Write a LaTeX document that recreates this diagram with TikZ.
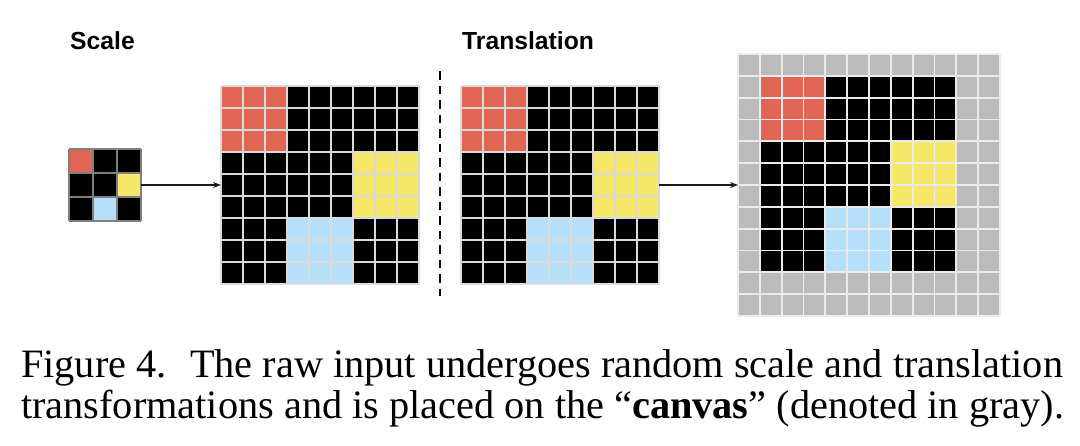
\documentclass[tikz,border=0pt]{standalone}
\usepackage{fontspec}
\setmainfont{Liberation Serif}
\newfontfamily\headfont{Liberation Sans}
\usetikzlibrary{arrows.meta}
\definecolor{cred}{HTML}{E26656}
\definecolor{cyel}{HTML}{F5E767}
\definecolor{cblue}{HTML}{B6E0FA}
\definecolor{cgray}{HTML}{BBBBBB}
\definecolor{gline}{HTML}{DADADA}
\definecolor{sline}{HTML}{7F7F7F}
\newcommand\pimg[3]{%
  \fill[black] (#1,#2) rectangle ++({3*#3},{3*#3});
  \fill[cred] (#1,#2) rectangle ++(#3,#3);
  \fill[cyel] ({#1+2*#3},{#2+#3}) rectangle ++(#3,#3);
  \fill[cblue] ({#1+#3},{#2+2*#3}) rectangle ++(#3,#3);}
\newcommand\pgridlines[5]{% x0,y0,cell,count,style
  \foreach \k in {0,...,#4}{
    \draw[#5] ({#1+\k*#3},#2) -- ++(0,{#4*#3});
    \draw[#5] (#1,{#2+\k*#3}) -- ++({#4*#3},0);}}
\begin{document}
\begin{tikzpicture}[x=1pt,y=-1pt,
  anchorbox/.style={inner sep=0pt, outer sep=0pt, draw=none, minimum width=#1, minimum height=#1},
  conn/.style={line width=1.2pt, draw=black!90, -{Stealth[length=8pt,width=6pt]}},
  head/.style={inner sep=0pt, anchor=base west, font=\headfont\bfseries\fontsize{24.7}{28}\selectfont},
  captext/.style={inner sep=0pt, anchor=base west, font=\fontsize{40.3}{42}\selectfont},
  bigline/.style={draw=gline, line width=1.8pt},
  canline/.style={draw=white!92!black, line width=1.8pt},
  smallline/.style={draw=sline, line width=1.2pt}]
\useasboundingbox (0,0) rectangle (1080,445);

% titles
\node[head] (tscale) at (70,49) {Scale};
\node[head] (ttrans) at (462,49) {Translation};

% raw input (3x3)
\pimg{69}{149}{24}
\pgridlines{69}{149}{24}{3}{smallline}
\node[anchorbox=72] (g1) at (105,185) {};

% scaled (9x9)
\pimg{221}{86}{66}
\pgridlines{221}{86}{22}{9}{bigline}
\node[anchorbox=198] (g2) at (320,185) {};

% translated input (9x9)
\pimg{461}{86}{66}
\pgridlines{461}{86}{22}{9}{bigline}
\node[anchorbox=198] (g3) at (560,185) {};

% canvas (12x12)
\fill[cgray] (738,54) rectangle ++(262,262);
\pimg{759.83}{75.83}{65.5}
\pgridlines{738}{54}{21.833}{12}{canline}
\node[anchorbox=262] (g4) at (869,185) {};

% divider
\coordinate (dtop) at (440,71);
\coordinate (dbot) at (440,296);
\draw[line width=2.4pt, dash pattern=on 8.5pt off 6pt] (dtop) -- (dbot);

% arrows
\draw[conn] (g1.east) -- (g2.west);
\draw[conn] (g3.east) -- (g4.west);

% caption
\node[captext] (c1) at (21,377) {\makebox[1042pt][s]{Figure 4.\hspace{0.25em} The raw input undergoes random scale and translation}};
\node[captext] (c2) at (21,418) {transformations and is placed on the ``\textbf{canvas}'' (denoted in gray).};
\end{tikzpicture}
\end{document}
